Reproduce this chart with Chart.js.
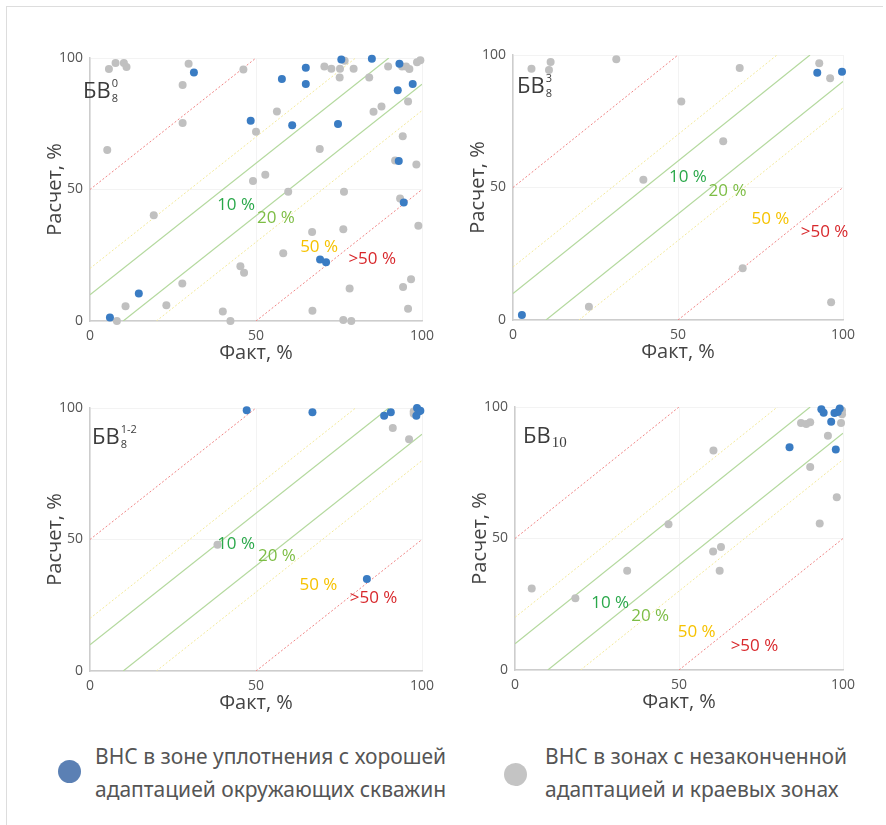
<!DOCTYPE html>
<html>
<head>
<meta charset="utf-8">
<script src="https://cdn.jsdelivr.net/npm/chart.js@4.4.1/dist/chart.umd.min.js"></script>
<style>
  body { margin: 0; background: #fff; width: 886px; height: 825px; overflow: hidden; position: relative; font-family: 'Open Sans', sans-serif; }
  .frame { position: absolute; left: 6px; top: 6px; width: 876px; height: 840px; border-top: 1.5px solid #ddd; border-left: 1.5px solid #ddd; }
  .box { position: absolute; }
  .dot { position: absolute; width: 23px; height: 23px; border-radius: 50%; }
  .leg { position: absolute; font-family: 'Liberation Sans Narrow', 'Noto Sans', sans-serif; font-size: 21px; line-height: 33px; color: #555; white-space: nowrap; }
</style>
</head>
<body>
<div class="frame"></div>
<div class="box" id="b1"><canvas id="c1"></canvas></div>
<div class="box" id="b2"><canvas id="c2"></canvas></div>
<div class="box" id="b3"><canvas id="c3"></canvas></div>
<div class="box" id="b4"><canvas id="c4"></canvas></div>

<div class="dot" style="left:58px;top:760px;background:#5b80b4"></div>
<div class="leg" style="left:95px;top:740px">ВНС в зоне уплотнения с хорошей<br>адаптацией окружающих скважин</div>
<div class="dot" style="left:504px;top:763px;background:#c4c4c4"></div>
<div class="leg" style="left:545px;top:740px">ВНС в зонах с незаконченной<br>адаптацией и краевых зонах</div>

<script>
// values: [Факт, Расчет] in %
const bv80Blue = [[75.7,99.4],[84.9,99.7],[93.2,97.8],[31.3,94.5],[65,96.3],[57.8,92],[65,90.1],[97.2,90.1],
  [92.7,87.7],[48.4,76.1],[60.9,74.4],[74.7,74.9],[93,60.8],[94.5,45.1],[69.3,23.4],[71.1,22.3],[14.7,10.5],[6,1.3]];
const bv80Gray = [[5.7,95.8],[7.7,98.1],[10.2,98.1],[11,96.6],[29.7,97.8],[46.2,95.6],[27.9,89.7],[5.2,65],
  [27.9,75.3],[50,72],[56.3,79.7],[70.6,96.8],[72.7,95.9],[75.3,95.9],[76.7,99],[79.4,95.9],[75.2,92.6],
  [84.1,92.6],[85.4,79.6],[87.8,81.6],[89.8,96.8],[94,96.8],[95.2,96.8],[96.2,95.8],[98.5,98.4],[99.5,99.1],
  [95.8,83.5],[94.2,70.2],[91.9,61],[98.3,59.5],[93.4,46.6],[98.9,36.2],[49.1,53.2],[52.8,55.6],[59.7,49.1],
  [76.5,49.1],[19.2,40.2],[69.2,65.4],[66.9,33.8],[76.3,34.9],[58.2,25.8],[45.3,20.8],[46.4,18.3],[27.8,14.3],
  [96.7,15.9],[94.3,12.9],[78.2,12.4],[10.7,5.6],[23,6],[40,3.6],[42.3,0],[8.1,0],[67,3.9],[76.3,0.4],[78.7,0],[95.8,4.7]];

const bv83Blue = [[2.7,1.9],[92.2,93.3],[99.7,93.7]];
const bv83Gray = [[5.6,94.8],[10.9,94.3],[11.4,97.4],[31.3,98.4],[68.7,95.1],[92.8,96.9],[96.1,91.2],[51,82.5],
  [63.7,67.5],[39.5,52.9],[69.6,19.5],[23,5],[96.4,6.7]];

const bv812Blue = [[47.2,99.1],[67,98.4],[88.6,97.1],[90.6,98.4],[98.5,100],[99,98.7],[98.3,97.1],[99.5,99],[83.4,35]];
const bv812Gray = [[38.4,48],[91.2,92.4],[96.1,88.1],[97.5,98.7],[97.5,97.8]];

const bv10Blue = [[93.4,99.1],[94.1,97.8],[96.4,94.4],[97.4,97.7],[98.4,98.1],[99,99.4],[83.7,84.7],[97.8,83.8]];
const bv10Gray = [[87.2,93.9],[88.8,93.5],[90,94.2],[99.7,98.7],[99.7,97.2],[99.4,93.9],[95.4,89.1],[90,77.2],
  [98.1,65.7],[92.9,55.7],[60.5,83.5],[46.8,55.4],[60.4,45.1],[62.8,46.8],[62.4,37.7],[34.2,37.7],[18.4,27.3],[5.1,31]];

// deviation bands: offset of the line y = x ± d
const bandOffsets = [10, 20, 50];
const zoneLabels = ['10 %', '20 %', '50 %', '>50 %'];
const zoneColors = ['#2aa84a', '#7dbd45', '#f6c200', '#d8282c'];
const axisTicks = [0, 50, 100];

// where the zone labels sit, in data units
const bv80LabelAt = [[44,43.9],[56,39],[69,28],[85,23.6]];
const bv83LabelAt = [[53,53.8],[65,48.8],[78,38],[94.4,33.3]];
const bv812LabelAt = [[44,48.4],[56.3,43.5],[68.8,32.7],[85.4,27.7]];
const bv10LabelAt = [[29,25.3],[41.2,20.5],[55.4,14.2],[73,9.1]];

const panels = [
  { id: 'c1', box: 'b1', area: [90, 58, 422, 321], blue: bv80Blue, gray: bv80Gray, labels: bv80LabelAt,
    tag: { sub: '8', sup: '0', dx: -7, dy: 40 } },
  { id: 'c2', box: 'b2', area: [513, 55, 843, 320], blue: bv83Blue, gray: bv83Gray, labels: bv83LabelAt,
    tag: { sub: '8', sup: '3', dx: 4, dy: 38 } },
  { id: 'c3', box: 'b3', area: [90, 408, 422, 671], blue: bv812Blue, gray: bv812Gray, labels: bv812LabelAt,
    tag: { sub: '8', sup: '1-2', dx: 2, dy: 36 } },
  { id: 'c4', box: 'b4', area: [515, 407, 843, 670], blue: bv10Blue, gray: bv10Gray, labels: bv10LabelAt,
    tag: { sub: '10', sup: '', dx: 8, dy: 36, serif: true } }
];

const W = 430, H = 340, Y_W = 60, X_H = 45, PAD_T = 18;

function bandLine(d) {
  return d > 0 ? [{ x: 0, y: d }, { x: 100 - d, y: 100 }] : [{ x: -d, y: 0 }, { x: 100, y: 100 + d }];
}

function lineSet(d, color, dash, width) {
  return { type: 'line', data: bandLine(d), borderColor: color, borderWidth: width, borderDash: dash,
    pointRadius: 0, fill: false, order: 5 };
}

const overlay = {
  id: 'overlay',
  afterDatasetsDraw(chart, args, opts) {
    const { ctx, scales: { x, y }, chartArea } = chart;
    ctx.save();
    ctx.font = '17px "Open Sans", sans-serif';
    ctx.textAlign = 'center';
    ctx.textBaseline = 'middle';
    opts.labels.forEach((p, i) => {
      ctx.fillStyle = zoneColors[i];
      ctx.fillText(zoneLabels[i], x.getPixelForValue(p[0]), y.getPixelForValue(p[1]));
    });
    // panel name БВ with sub/superscript
    const t = opts.tag;
    const bx = chartArea.left + t.dx, by = chartArea.top + t.dy;
    ctx.textAlign = 'left';
    ctx.textBaseline = 'alphabetic';
    ctx.fillStyle = '#3c3c3c';
    ctx.font = '22px "Open Sans", sans-serif';
    ctx.fillText('БВ', bx, by);
    const w = ctx.measureText('БВ').width + 1;
    if (t.serif) {
      ctx.font = '15px "Liberation Serif", serif';
      ctx.fillText(t.sub, bx + w, by + 4);
    } else {
      ctx.font = '11px "Open Sans", sans-serif';
      ctx.fillText(t.sub, bx + w, by + 4);
      ctx.fillText(t.sup, bx + w, by - 11);
    }
    ctx.restore();
  }
};

panels.forEach(p => {
  const [l, t, r, b] = p.area;
  const cx = l - Y_W, cy = t - PAD_T;
  const box = document.getElementById(p.box);
  box.style.left = cx + 'px';
  box.style.top = cy + 'px';
  const cv = document.getElementById(p.id);
  cv.width = W; cv.height = H;
  cv.style.width = W + 'px'; cv.style.height = H + 'px';

  const datasets = [];
  bandOffsets.forEach(d => {
    const style = d === 10 ? ['#b4d99e', [], 1.2] : d === 20 ? ['#f3e99a', [2, 2], 1] : ['#f08585', [2, 2], 1];
    datasets.push(lineSet(d, style[0], style[1], style[2]));
    datasets.push(lineSet(-d, style[0], style[1], style[2]));
  });
  datasets.push({ data: p.gray.map(v => ({ x: v[0], y: v[1] })), backgroundColor: '#c0c0c0', borderWidth: 0,
    pointRadius: 4, clip: false, order: 2 });
  datasets.push({ data: p.blue.map(v => ({ x: v[0], y: v[1] })), backgroundColor: '#3a7cc3', borderWidth: 0,
    pointRadius: 4, clip: false, order: 1 });

  const tickFont = { family: '"Open Sans", sans-serif', size: 14 };
  const titleFont = { family: '"Open Sans", sans-serif', size: 20 };

  new Chart(cv, {
    type: 'scatter',
    data: { datasets },
    plugins: [overlay],
    options: {
      responsive: false,
      animation: false,
      layout: { padding: { left: 0, top: PAD_T, right: cx + W - r, bottom: H - PAD_T - (b - t) - X_H } },
      plugins: { legend: { display: false }, tooltip: { enabled: false },
        overlay: { labels: p.labels, tag: p.tag } },
      scales: {
        x: {
          type: 'linear', min: 0, max: 100,
          afterFit: s => { s.height = X_H; },
          afterBuildTicks: s => { s.ticks = axisTicks.map(v => ({ value: v })); },
          grid: { color: '#f3f3f3', drawTicks: false },
          border: { color: '#cdcdcd', width: 1.5 },
          ticks: { font: tickFont, color: '#555', padding: 7, maxRotation: 0 },
          title: { display: true, text: 'Факт, %', font: titleFont, color: '#444', padding: { top: 0, bottom: 1 } }
        },
        y: {
          type: 'linear', min: 0, max: 100,
          afterFit: s => { s.width = Y_W; },
          afterBuildTicks: s => { s.ticks = axisTicks.map(v => ({ value: v })); },
          grid: { color: '#f3f3f3', drawTicks: false },
          border: { color: '#cdcdcd', width: 1.5 },
          ticks: { font: tickFont, color: '#555', padding: 7 },
          title: { display: true, text: 'Расчет, %', font: titleFont, color: '#444', padding: { top: 13, bottom: 0 } }
        }
      }
    }
  });
});
</script>
</body>
</html>
